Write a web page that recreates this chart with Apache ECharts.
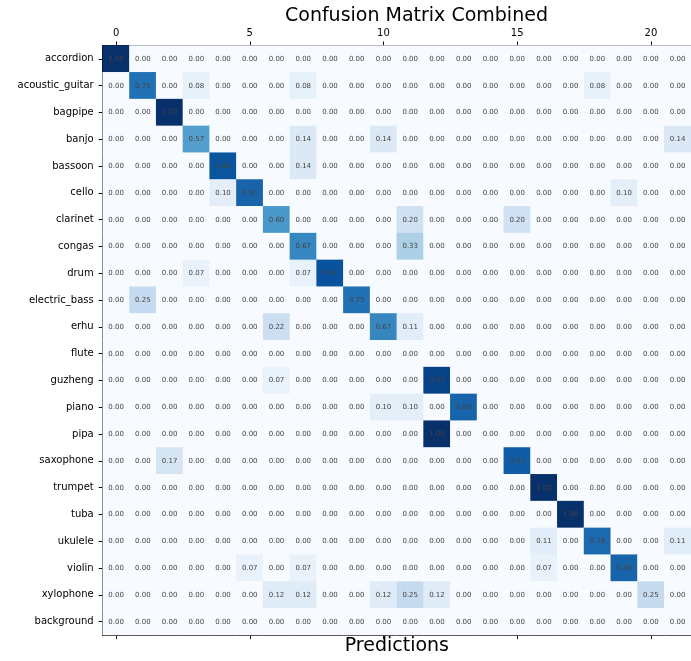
<!DOCTYPE html>
<html>
<head>
<meta charset="utf-8">
<script src="https://cdn.jsdelivr.net/npm/echarts@6/dist/echarts.min.js"></script>
<style>
  html, body { margin: 0; padding: 0; background: #ffffff; }
  #chart { width: 691px; height: 661px; }
</style>
</head>
<body>
<div id="chart"></div>
<script>
// True classes (rows, top to bottom)
const classNames = [
  'accordion', 'acoustic_guitar', 'bagpipe', 'banjo', 'bassoon', 'cello',
  'clarinet', 'congas', 'drum', 'electric_bass', 'erhu', 'flute', 'guzheng',
  'piano', 'pipa', 'saxophone', 'trumpet', 'tuba', 'ukulele', 'violin',
  'xylophone', 'background'
];

// Predicted class indices (columns)
const predIndices = classNames.map((_, i) => String(i));

// Row-normalised confusion matrix, one row per true class
const confusion = [
  [1.00,0.00,0.00,0.00,0.00,0.00,0.00,0.00,0.00,0.00,0.00,0.00,0.00,0.00,0.00,0.00,0.00,0.00,0.00,0.00,0.00,0.00],
  [0.00,0.75,0.00,0.08,0.00,0.00,0.00,0.08,0.00,0.00,0.00,0.00,0.00,0.00,0.00,0.00,0.00,0.00,0.08,0.00,0.00,0.00],
  [0.00,0.00,1.00,0.00,0.00,0.00,0.00,0.00,0.00,0.00,0.00,0.00,0.00,0.00,0.00,0.00,0.00,0.00,0.00,0.00,0.00,0.00],
  [0.00,0.00,0.00,0.57,0.00,0.00,0.00,0.14,0.00,0.00,0.14,0.00,0.00,0.00,0.00,0.00,0.00,0.00,0.00,0.00,0.00,0.14],
  [0.00,0.00,0.00,0.00,0.86,0.00,0.00,0.14,0.00,0.00,0.00,0.00,0.00,0.00,0.00,0.00,0.00,0.00,0.00,0.00,0.00,0.00],
  [0.00,0.00,0.00,0.00,0.10,0.80,0.00,0.00,0.00,0.00,0.00,0.00,0.00,0.00,0.00,0.00,0.00,0.00,0.00,0.10,0.00,0.00],
  [0.00,0.00,0.00,0.00,0.00,0.00,0.60,0.00,0.00,0.00,0.00,0.20,0.00,0.00,0.00,0.20,0.00,0.00,0.00,0.00,0.00,0.00],
  [0.00,0.00,0.00,0.00,0.00,0.00,0.00,0.67,0.00,0.00,0.00,0.33,0.00,0.00,0.00,0.00,0.00,0.00,0.00,0.00,0.00,0.00],
  [0.00,0.00,0.00,0.07,0.00,0.00,0.00,0.07,0.87,0.00,0.00,0.00,0.00,0.00,0.00,0.00,0.00,0.00,0.00,0.00,0.00,0.00],
  [0.00,0.25,0.00,0.00,0.00,0.00,0.00,0.00,0.00,0.75,0.00,0.00,0.00,0.00,0.00,0.00,0.00,0.00,0.00,0.00,0.00,0.00],
  [0.00,0.00,0.00,0.00,0.00,0.00,0.22,0.00,0.00,0.00,0.67,0.11,0.00,0.00,0.00,0.00,0.00,0.00,0.00,0.00,0.00,0.00],
  [0.00,0.00,0.00,0.00,0.00,0.00,0.00,0.00,0.00,0.00,0.00,0.00,0.00,0.00,0.00,0.00,0.00,0.00,0.00,0.00,0.00,0.00],
  [0.00,0.00,0.00,0.00,0.00,0.00,0.07,0.00,0.00,0.00,0.00,0.00,0.93,0.00,0.00,0.00,0.00,0.00,0.00,0.00,0.00,0.00],
  [0.00,0.00,0.00,0.00,0.00,0.00,0.00,0.00,0.00,0.00,0.10,0.10,0.00,0.80,0.00,0.00,0.00,0.00,0.00,0.00,0.00,0.00],
  [0.00,0.00,0.00,0.00,0.00,0.00,0.00,0.00,0.00,0.00,0.00,0.00,1.00,0.00,0.00,0.00,0.00,0.00,0.00,0.00,0.00,0.00],
  [0.00,0.00,0.17,0.00,0.00,0.00,0.00,0.00,0.00,0.00,0.00,0.00,0.00,0.00,0.00,0.83,0.00,0.00,0.00,0.00,0.00,0.00],
  [0.00,0.00,0.00,0.00,0.00,0.00,0.00,0.00,0.00,0.00,0.00,0.00,0.00,0.00,0.00,0.00,1.00,0.00,0.00,0.00,0.00,0.00],
  [0.00,0.00,0.00,0.00,0.00,0.00,0.00,0.00,0.00,0.00,0.00,0.00,0.00,0.00,0.00,0.00,0.00,1.00,0.00,0.00,0.00,0.00],
  [0.00,0.00,0.00,0.00,0.00,0.00,0.00,0.00,0.00,0.00,0.00,0.00,0.00,0.00,0.00,0.00,0.11,0.00,0.78,0.00,0.00,0.11],
  [0.00,0.00,0.00,0.00,0.00,0.07,0.00,0.07,0.00,0.00,0.00,0.00,0.00,0.00,0.00,0.00,0.07,0.00,0.00,0.80,0.00,0.00],
  [0.00,0.00,0.00,0.00,0.00,0.00,0.12,0.12,0.00,0.00,0.12,0.25,0.12,0.00,0.00,0.00,0.00,0.00,0.00,0.00,0.25,0.00],
  [0.00,0.00,0.00,0.00,0.00,0.00,0.00,0.00,0.00,0.00,0.00,0.00,0.00,0.00,0.00,0.00,0.00,0.00,0.00,0.00,0.00,0.00]
];

// Sequential blue colour ramp (light to dark)
const blues = ['#f7fbff', '#deebf7', '#c6dbef', '#9ecae1', '#6baed6',
               '#4292c6', '#2171b5', '#08519c', '#08306b'];

const cells = [];
confusion.forEach((row, r) => {
  row.forEach((v, c) => cells.push([c, r, v]));
});

const FONT = 'DejaVu Sans';
const cell = 26.8;
const n = classNames.length;

const chart = echarts.init(document.getElementById('chart'), null, { renderer: 'canvas' });

chart.setOption({
  animation: false,
  backgroundColor: '#ffffff',
  title: {
    text: 'Confusion Matrix Combined',
    left: 285,
    top: 7,
    padding: 0,
    textStyle: { fontFamily: FONT, fontSize: 19, fontWeight: 'normal', color: '#000000' }
  },
  grid: { left: 102.7, top: 45.5, width: cell * n, height: cell * n },
  visualMap: {
    show: false,
    min: 0,
    max: 1,
    dimension: 2,
    inRange: { color: blues }
  },
  xAxis: [
    {
      type: 'category',
      position: 'top',
      data: predIndices,
      axisLine: { show: true, lineStyle: { color: '#000000', width: 1 } },
      axisTick: { show: true, interval: 4, alignWithLabel: true, length: 4, lineStyle: { color: '#000000' } },
      axisLabel: { interval: 4, margin: 7, fontFamily: FONT, fontSize: 10, color: '#000000' },
      splitLine: { show: false }
    },
    {
      type: 'category',
      position: 'bottom',
      data: predIndices,
      name: 'Predictions',
      nameLocation: 'middle',
      nameGap: 1,
      nameTextStyle: { fontFamily: FONT, fontSize: 19, color: '#000000' },
      axisLine: { show: true, lineStyle: { color: '#000000', width: 1 } },
      axisTick: { show: true, interval: 4, alignWithLabel: true, length: 4, lineStyle: { color: '#000000' } },
      axisLabel: { show: false },
      splitLine: { show: false }
    }
  ],
  yAxis: {
    type: 'category',
    inverse: true,
    data: classNames,
    axisLine: { show: true, lineStyle: { color: '#000000', width: 1 } },
    axisTick: { show: true, alignWithLabel: true, length: 4, lineStyle: { color: '#000000' } },
    axisLabel: { interval: 0, margin: 9, fontFamily: FONT, fontSize: 10, color: '#000000' },
    splitLine: { show: false }
  },
  series: [{
    type: 'heatmap',
    xAxisIndex: 0,
    data: cells,
    label: {
      show: true,
      formatter: p => p.value[2].toFixed(2),
      fontFamily: FONT,
      fontSize: 7,
      color: '#444444'
    },
    itemStyle: { borderWidth: 0 },
    emphasis: { disabled: true }
  }]
});
</script>
</body>
</html>
